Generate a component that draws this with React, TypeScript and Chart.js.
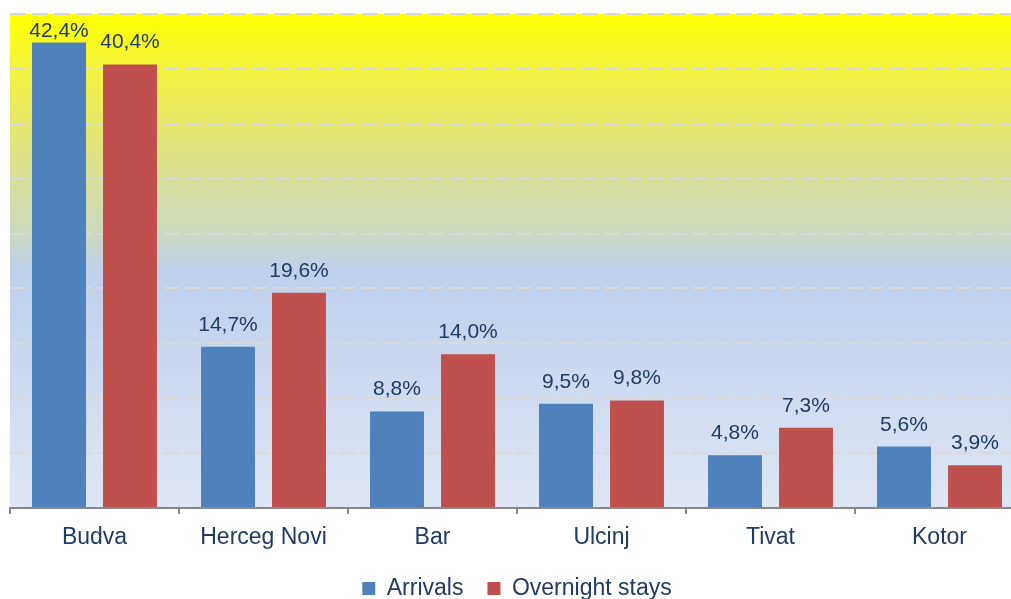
import React, { useEffect, useRef } from "react";
import { Chart, registerables } from "chart.js";

Chart.register(...registerables);

const categories = ["Budva", "Herceg Novi", "Bar", "Ulcinj", "Tivat", "Kotor"];
const arrivals = [42.4, 14.7, 8.8, 9.5, 4.8, 5.6];
const overnightStays = [40.4, 19.6, 14.0, 9.8, 7.3, 3.9];
const seriesNames = ["Arrivals", "Overnight stays"];
const yMax = 45;
const yStep = 5;

const TEXT = "#1F3B64";
const FONT = "'Liberation Sans', Arial, sans-serif";

const bgPlugin = {
  id: "bgGradient",
  beforeDraw(chart: any) {
    const { ctx, chartArea } = chart;
    if (!chartArea) return;
    const { left, top, right, bottom } = chartArea;
    ctx.save();
    const g = ctx.createLinearGradient(0, top, 0, bottom);
    g.addColorStop(0, "#FFFF00");
    g.addColorStop(0.11, "#F3F33F");
    g.addColorStop(0.22, "#E6E86A");
    g.addColorStop(0.33, "#D9DF98");
    g.addColorStop(0.44, "#CCD8BE");
    g.addColorStop(0.52, "#BFD0EC");
    g.addColorStop(0.65, "#C7D5EE");
    g.addColorStop(0.8, "#D2DDF1");
    g.addColorStop(1, "#DEE6F4");
    ctx.fillStyle = g;
    ctx.fillRect(left, top, right - left, bottom - top);
    ctx.restore();
  },
};

const labelPlugin = {
  id: "valueLabels",
  afterDatasetsDraw(chart: any) {
    const { ctx, chartArea } = chart;
    ctx.save();
    ctx.font = `21px ${FONT}`;
    ctx.fillStyle = TEXT;
    ctx.textAlign = "center";
    ctx.textBaseline = "alphabetic";
    const minBaseline = chartArea.top + 23;
    chart.data.datasets.forEach((ds: any, di: number) => {
      const meta = chart.getDatasetMeta(di);
      meta.data.forEach((el: any, i: number) => {
        const v = ds.data[i] as number;
        const txt = v.toFixed(1).replace(".", ",") + "%";
        ctx.fillText(txt, el.x, Math.max(el.y - 16, minBaseline));
      });
    });
    ctx.restore();
  },
};

export default function App() {
  const ref = useRef<HTMLCanvasElement>(null);
  useEffect(() => {
    document.body.style.margin = "0";
    document.body.style.overflow = "hidden";
    const canvas = ref.current!;
    const chart = new Chart(canvas, {
      type: "bar",
      data: {
        labels: categories,
        datasets: [
          {
            label: seriesNames[0],
            data: arrivals,
            backgroundColor: "#4F81BD",
            barPercentage: 0.76,
            categoryPercentage: 0.84,
          },
          {
            label: seriesNames[1],
            data: overnightStays,
            backgroundColor: "#C0504D",
            barPercentage: 0.76,
            categoryPercentage: 0.84,
          },
        ],
      },
      options: {
        responsive: false,
        animation: false,
        devicePixelRatio: 1,
        layout: { padding: { left: 10, right: 10, top: 14, bottom: 0 } },
        plugins: {
          tooltip: { enabled: false },
          legend: {
            position: "bottom",
            labels: {
              font: { family: FONT, size: 23 },
              color: TEXT,
              boxWidth: 13,
              boxHeight: 13,
              padding: 24,
            },
          },
        },
        scales: {
          x: {
            offset: true,
            afterFit(scale: any) {
              scale.height = 45;
            },
            grid: {
              display: true,
              drawOnChartArea: false,
              drawTicks: true,
              tickLength: 6,
              color: "#898989",
              lineWidth: 2,
              offset: true,
            },
            border: { display: true, color: "#898989", width: 2 },
            ticks: {
              font: { family: FONT, size: 23 },
              color: TEXT,
              padding: 10,
              maxRotation: 0,
            },
          },
          y: {
            min: 0,
            max: yMax,
            ticks: { display: false, stepSize: yStep },
            border: { display: false, dash: [16, 6] },
            grid: {
              color: "#D9D9D9",
              lineWidth: 2,
              drawTicks: false,
            },
          },
        },
      },
      plugins: [bgPlugin, labelPlugin],
    });
    return () => chart.destroy();
  }, []);
  return (
    <div style={{ width: 1011, height: 599, overflow: "hidden", position: "relative", background: "#fff" }}>
      <canvas ref={ref} width={1034} height={610} style={{ position: "absolute", left: 0, top: 0 }} />
    </div>
  );
}
